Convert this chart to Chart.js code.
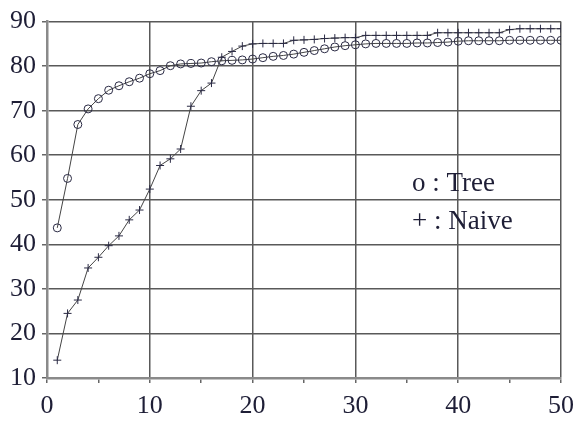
<!DOCTYPE html>
<html>
<head>
<meta charset="utf-8">
<script src="https://cdn.jsdelivr.net/npm/chart.js@4/dist/chart.umd.min.js"></script>
<style>
  html, body { margin: 0; padding: 0; background: #fff; }
  #wrap { width: 582px; height: 422px; position: relative; }
</style>
</head>
<body>
<div id="wrap"><canvas id="grafico" width="582" height="422"></canvas></div>
<script>
// valores
const pasos = [];
for (let i = 1; i <= 50; i++) pasos.push(i);

const valoresTree = [43.7, 54.8, 66.9, 70.4, 72.7, 74.6, 75.6, 76.5, 77.3, 78.3,
    79.0, 80.1, 80.5, 80.6, 80.7, 81.0, 81.2, 81.3, 81.4, 81.6,
    81.9, 82.2, 82.4, 82.7, 83.1, 83.5, 83.9, 84.3, 84.6, 84.8,
    85.0, 85.1, 85.1, 85.1, 85.1, 85.2, 85.2, 85.3, 85.4, 85.6,
    85.7, 85.7, 85.7, 85.7, 85.8, 85.8, 85.8, 85.8, 85.8, 85.8];

const valoresNaive = [14.0, 24.5, 27.5, 34.7, 37.1, 39.7, 41.9, 45.5, 47.7, 52.4,
    57.7, 59.2, 61.4, 71.0, 74.5, 76.2, 82.0, 83.3, 84.5, 85.0,
    85.1, 85.1, 85.1, 85.8, 85.9, 86.0, 86.2, 86.3, 86.4, 86.4,
    86.9, 86.9, 86.9, 86.9, 86.9, 86.9, 86.9, 87.5, 87.5, 87.5,
    87.5, 87.5, 87.5, 87.5, 88.2, 88.4, 88.4, 88.4, 88.4, 88.4];

const etiquetasLeyenda = ['o : Tree', '+ : Naive'];

const colorTexto = '#1e1e36';
const fuente = "'Liberation Serif', 'Times New Roman', serif";

const leyendaTexto = {
    id: 'leyendaTexto',
    afterDraw(chart) {
        const ctx = chart.ctx;
        ctx.save();
        ctx.font = '27px ' + fuente;
        ctx.fillStyle = colorTexto;
        ctx.textBaseline = 'alphabetic';
        ctx.fillText(etiquetasLeyenda[0], 412, 191);
        ctx.fillText(etiquetasLeyenda[1], 412, 229);
        ctx.restore();
    }
};

function gridColor(ctx) {
    return ctx.tick && ctx.tick.value % 10 === 0 ? '#595959' : 'transparent';
}

function crearGrafico() {
    const ctx = document.getElementById('grafico').getContext('2d');
    new Chart(ctx, {
        type: 'line',
        data: {
            datasets: [
                {
                    label: 'Tree',
                    data: pasos.map((x, i) => ({ x, y: valoresTree[i] })),
                    borderColor: '#444',
                    borderWidth: 1,
                    pointStyle: 'circle',
                    pointRadius: 4,
                    pointBorderWidth: 1,
                    pointBorderColor: '#2a2a44',
                    pointBackgroundColor: 'rgba(255,255,255,0)',
                    tension: 0
                },
                {
                    label: 'Naive',
                    data: pasos.map((x, i) => ({ x, y: valoresNaive[i] })),
                    borderColor: '#444',
                    borderWidth: 1,
                    pointStyle: 'cross',
                    pointRadius: 4,
                    pointBorderWidth: 1,
                    pointBorderColor: '#2a2a44',
                    tension: 0
                }
            ]
        },
        options: {
            responsive: false,
            animation: false,
            layout: { padding: { top: 11, right: 15, left: 0, bottom: 0 } },
            plugins: {
                legend: { display: false },
                tooltip: { enabled: false }
            },
            scales: {
                x: {
                    type: 'linear',
                    min: 0,
                    max: 50,
                    afterFit: s => { s.height = 44; },
                    border: { color: '#8a8a8a', width: 2.5 },
                    grid: {
                        color: gridColor,
                        tickColor: '#666',
                        lineWidth: 1.5,
                        tickLength: 5
                    },
                    ticks: {
                        stepSize: 5,
                        padding: 8,
                        color: colorTexto,
                        font: { family: fuente, size: 26 },
                        maxRotation: 0,
                        callback: v => (v % 10 === 0 ? v : '')
                    }
                },
                y: {
                    min: 10,
                    max: 90,
                    afterFit: s => { s.width = 47; },
                    border: { color: '#8a8a8a', width: 2.5 },
                    grid: {
                        color: gridColor,
                        tickColor: '#666',
                        lineWidth: 1.5,
                        tickLength: 5
                    },
                    ticks: {
                        stepSize: 5,
                        padding: 6,
                        color: colorTexto,
                        font: { family: fuente, size: 26 },
                        callback: v => (v % 10 === 0 ? v : '')
                    }
                }
            }
        },
        plugins: [leyendaTexto]
    });
}

document.fonts.load("26px 'Liberation Serif'").then(crearGrafico, crearGrafico);
</script>
</body>
</html>
